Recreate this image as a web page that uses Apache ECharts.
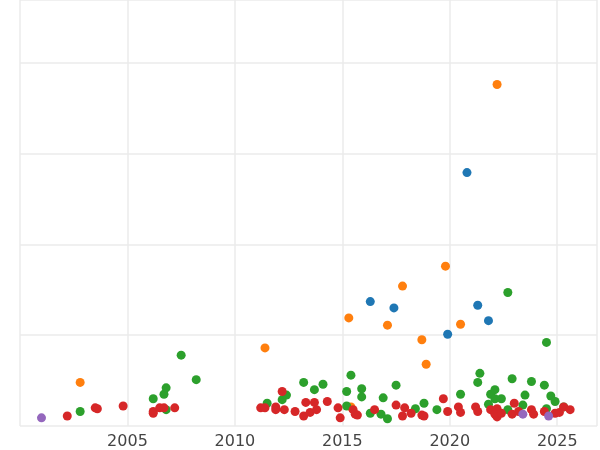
<!DOCTYPE html>
<html>
<head>
<meta charset="utf-8">
<script src="https://cdn.jsdelivr.net/npm/echarts@6/dist/echarts.min.js"></script>
<style>html,body{margin:0;padding:0;background:#fff}#main{width:600px;height:450px}</style>
</head>
<body>
<div id="main"></div>
<script>
// [year, value]
const blueData = [[2020.8,2.79],[2016.3,1.37],[2017.4,1.30],[2019.9,1.01],[2021.3,1.33],[2021.8,1.16]];
const orangeData = [[2002.8,0.48],[2011.4,0.86],[2015.3,1.19],[2017.1,1.11],[2017.8,1.54],[2018.7,0.95],
    [2018.9,0.68],[2019.8,1.76],[2020.5,1.12],[2022.2,3.76],[2015.4,0.21]];
const greenData = [[2002.8,0.16],[2006.2,0.30],[2006.7,0.35],[2006.8,0.42],[2006.8,0.18],[2007.5,0.78],
    [2008.2,0.51],[2011.5,0.25],[2012.2,0.29],[2012.4,0.34],[2013.2,0.48],[2013.7,0.40],[2014.1,0.46],
    [2015.2,0.38],[2015.4,0.56],[2015.9,0.41],[2015.9,0.32],[2015.2,0.22],[2016.3,0.14],[2016.9,0.31],
    [2016.8,0.13],[2017.1,0.08],[2017.5,0.45],[2018.4,0.19],[2018.8,0.25],[2019.4,0.18],[2020.5,0.35],
    [2021.3,0.48],[2021.4,0.58],[2021.9,0.35],[2022.1,0.30],[2022.1,0.40],[2022.4,0.30],[2021.8,0.24],
    [2022.9,0.52],[2022.7,0.18],[2023.5,0.34],[2023.4,0.23],[2023.8,0.49],[2024.4,0.45],[2024.7,0.33],
    [2024.9,0.27],[2024.5,0.19],[2024.5,0.92],[2025.3,0.21],[2022.7,1.47]];
const redData = [[2002.2,0.11],[2003.5,0.20],[2003.6,0.19],[2004.8,0.22],[2006.2,0.16],[2006.2,0.14],
    [2006.5,0.20],[2006.7,0.20],[2007.2,0.20],[2011.2,0.20],[2011.4,0.20],[2011.9,0.21],[2011.9,0.18],
    [2012.2,0.38],[2012.3,0.18],[2012.8,0.16],[2013.2,0.11],[2013.3,0.26],[2013.5,0.15],[2013.7,0.26],
    [2013.8,0.18],[2014.3,0.27],[2014.8,0.20],[2014.9,0.09],[2015.5,0.18],[2015.6,0.13],[2015.7,0.12],
    [2016.5,0.18],[2017.5,0.23],[2017.9,0.20],[2017.8,0.11],[2018.2,0.14],[2018.7,0.12],[2018.8,0.11],
    [2019.7,0.30],[2019.9,0.16],[2020.4,0.21],[2020.5,0.15],[2021.2,0.21],[2021.3,0.16],[2021.9,0.18],
    [2022.2,0.19],[2022.2,0.10],[2022.1,0.13],[2022.4,0.14],[2022.9,0.13],[2023.0,0.25],[2023.2,0.16],
    [2023.8,0.18],[2023.9,0.13],[2024.4,0.16],[2024.9,0.14],[2025.1,0.15],[2025.3,0.21],[2025.6,0.18]];
const purpleData = [[2001.0,0.09],[2023.4,0.13],[2024.6,0.11]];

const chart = echarts.init(document.getElementById('main'));
function sc(data, color){
    return {type: 'scatter', data: data, symbolSize: 9, itemStyle: {color: color, opacity: 1}};
}
chart.setOption({
    animation: false,
    grid: {left: 20, right: 0, top: 0, bottom: 23},
    xAxis: {
        type: 'value', min: 2000, max: 2026.85, interval: 5,
        axisLine: {show: false}, axisTick: {show: false},
        axisLabel: {color: '#444', fontSize: 16, fontFamily: 'DejaVu Sans',
            formatter: function(v){ return (v === 2000 || v % 5 !== 0) ? '' : String(v); }},
        splitLine: {lineStyle: {color: '#ebebeb', width: 1.5}}
    },
    yAxis: {
        type: 'value', min: 0, max: 4.69, interval: 1,
        axisLine: {show: false}, axisTick: {show: false}, axisLabel: {show: false},
        splitLine: {lineStyle: {color: '#ebebeb', width: 1.5}}
    },
    series: [
        sc(blueData, '#1f77b4'),
        sc(orangeData, '#ff7f0e'),
        sc(greenData, '#2ca02c'),
        sc(redData, '#d62728'),
        sc(purpleData, '#9467bd')
    ]
});
</script>
</body>
</html>
